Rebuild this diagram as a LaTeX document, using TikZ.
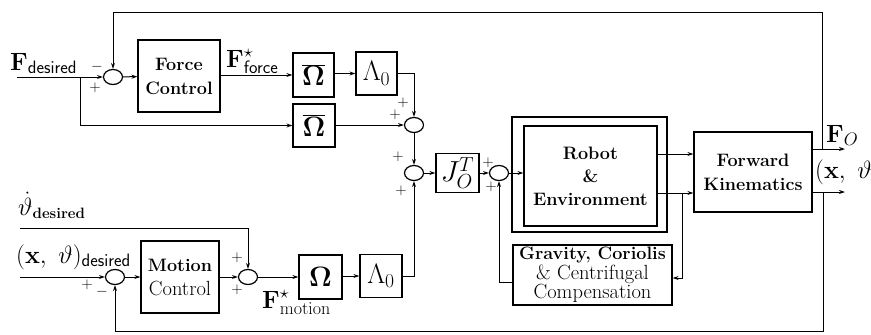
\RequirePackage{fix-cm}
\documentclass[tikz,border=0pt]{standalone}
\usetikzlibrary{shapes.geometric,arrows.meta}
\DeclareMathSizes{25}{25}{18}{13}
\begin{document}
\begin{tikzpicture}[x=1pt,y=-1pt,
 blk/.style={draw, line width=1.2pt, inner sep=0pt, align=center},
 sym/.style={font=\fontsize{28}{30}\selectfont},
 sumj/.style={draw, ellipse, line width=1.2pt, minimum width=19pt, minimum height=15pt, inner sep=0pt},
 conn/.style={line width=1pt, -{Stealth[length=6pt,width=4pt]}},
 sg/.style={font=\fontsize{15}{15}\selectfont, inner sep=0pt},
 lbl/.style={font=\fontsize{25}{28}\selectfont, inner sep=0pt, anchor=base west}]
\useasboundingbox (0,0) rectangle (871,335);
% upper branch
\node[sumj] (s1) at (113,77) {};
\node[blk,minimum width=82pt,minimum height=72pt,font=\fontsize{18}{24}\selectfont\bfseries] (fc) at (179,76) {Force\\Control};
\node[blk,sym,minimum width=41pt,minimum height=44pt] (ob1) at (313.5,75) {$\overline{\mathbf{\Omega}}$};
\node[blk,sym,minimum width=41pt,minimum height=43pt] (l1) at (376.5,73.5) {$\Lambda_0$};
\node[blk,sym,minimum width=42pt,minimum height=43pt] (ob2) at (314,125.5) {$\overline{\mathbf{\Omega}}$};
\node[sumj] (s2) at (414,125) {};
\node[sumj] (s3) at (414,173) {};
\node[blk,minimum width=43pt,minimum height=39pt,font=\fontsize{29}{30}\selectfont] (J) at (457.5,173) {$J_O^T$};
\node[sumj] (s4) at (499,173) {};
\node[blk,minimum width=155pt,minimum height=115pt] (ro) at (589.5,174.5) {};
\node[blk,minimum width=133pt,minimum height=100pt,font=\fontsize{18}{23}\selectfont\bfseries] (ri) at (590.5,176) {Robot\\\&\\Environment};
\node[blk,minimum width=118pt,minimum height=80pt,font=\fontsize{18}{24}\selectfont\bfseries] (fk) at (753,172) {Forward\\Kinematics};
\node[blk,minimum width=159pt,minimum height=60pt,font=\fontsize{20.5}{17.5}\selectfont] (gr) at (592.5,275) {{\fontsize{18}{17.5}\selectfont\bfseries Gravity, Coriolis}\\\& Centrifugal\\Compensation};
% lower branch
\node[sumj] (s5) at (115,277) {};
\node[blk,minimum width=78pt,minimum height=72pt,font=\fontsize{20.5}{24}\selectfont] (mc) at (180,277) {{\fontsize{18}{24}\selectfont\bfseries Motion}\\Control};
\node[sumj] (s6) at (248,277) {};
\node[blk,sym,minimum width=43pt,minimum height=44pt] (om) at (320.5,277) {$\mathbf{\Omega}$};
\node[blk,sym,minimum width=42pt,minimum height=43pt] (l2) at (381,276) {$\Lambda_0$};
% coordinates
\coordinate (in1) at (17,77);
\coordinate (br1) at (80,77);
\coordinate (fkin1) at ([yshift=18pt]fk.west);
\coordinate (fkin2) at ([yshift=-21pt]fk.west);
\coordinate (br2) at (682,193);
\coordinate (fo1) at ([yshift=23pt]fk.east);
\coordinate (fo2) at ([yshift=-20pt]fk.east);
\coordinate (o1) at (845,149);
\coordinate (o2) at (845,192);
\coordinate (b1) at (822,149);
\coordinate (t1) at (822,12);
\coordinate (b2) at (823,192);
\coordinate (t2) at (823,331);
\coordinate (in2) at (20,228);
\coordinate (in3) at (20,277);
% connectors
\draw[conn] (in1) -- (s1.west);
\draw[conn] (br1) |- (ob2.west);
\draw[conn] (s1) -- (fc);
\draw[conn] (fc.east |- ob1.west) -- (ob1.west);
\draw[conn] (ob1.east |- l1.west) -- (l1.west);
\draw[conn] (l1.east) -| (s2.north);
\draw[conn] (ob2.east |- s2.west) -- (s2.west);
\draw[conn] (s2) -- (s3);
\draw[conn] (s3) -- (J);
\draw[conn] (J) -- (s4);
\draw[conn] (s4) -- (ri.west |- s4);
\draw[conn] (ri.east |- fkin1) -- (fkin1);
\draw[conn] (ri.east |- fkin2) -- (fkin2);
\draw[conn] (br2) |- ([yshift=-3pt]gr.east);
\draw[conn] ([yshift=-7pt]gr.west) -| (s4.south);
\draw[conn] (fo1) -- (o1);
\draw[conn] (fo2) -- (o2);
\draw[conn] (b1) -- (t1) -| (s1.north);
\draw[conn] (b2) -- (t2) -| (s5.south);
\draw[conn] (in2) -| (s6.north);
\draw[conn] (in3) -- (s5.west);
\draw[conn] (s5) -- (mc);
\draw[conn] (mc) -- (s6);
\draw[conn] (s6) -- (om.west |- s6);
\draw[conn] (om.east |- l2.west) -- (l2.west);
\draw[conn] (l2.east) -| (s3.south);
% labels
\node[lbl] (fd) at (10,70) {$\mathbf{F}_{\mathsf{desired}}$};
\node[lbl] (ff) at (226,67) {$\mathbf{F}^\star_{\mathsf{force}}$};
\node[lbl] (td) at (18,215) {$\dot\vartheta_{\mbox{\fontsize{15}{15}\selectfont\bfseries desired}}$};
\node[lbl] (xd) at (16,263) {$(\mathbf{x},\ \vartheta)_{\mathsf{desired}}$};
\node[lbl] (fm) at (262,308) {$\mathbf{F}^\star_{\mathrm{motion}}$};
\node[lbl] (fo) at (826,142) {$\mathbf{F}_O$};
\node[lbl] (xo) at (815,178) {$(\mathbf{x},\ \vartheta)$};
% signs
\node[sg] (g1) at (97,67) {$-$};
\node[sg] (g2) at (95,88) {$+$};
\node[sg] (g3) at (403,103) {$+$};
\node[sg] (g4) at (395,115) {$+$};
\node[sg] (g5) at (398,157) {$+$};
\node[sg] (g6) at (401,191) {$+$};
\node[sg] (g7) at (488,163) {$+$};
\node[sg] (g8) at (491,187) {$+$};
\node[sg] (g9) at (87,285) {$+$};
\node[sg] (g10) at (102,292) {$-$};
\node[sg] (g11) at (237,258) {$+$};
\node[sg] (g12) at (237,290) {$+$};
\end{tikzpicture}
\end{document}
